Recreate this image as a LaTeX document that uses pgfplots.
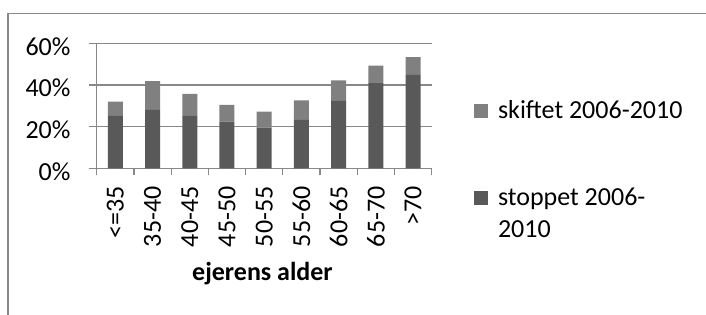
\documentclass[border=0pt]{standalone}
\usepackage{pgfplots}
\pgfplotsset{compat=1.18}
\usepackage{fontspec}
\setmainfont{Carlito}
\definecolor{darkbar}{HTML}{595959}
\definecolor{lightbar}{HTML}{808080}
\definecolor{gridgray}{HTML}{888888}
\begin{document}
\begin{tikzpicture}[x=1bp,y=1bp]
\path[use as bounding box] (0,0) rectangle (706,314);
\begin{scope}
\clip (0,0) rectangle (706,314);
\draw[gridgray, line width=1.5bp] (8,-10) -- (8,300.7) -- (720,300.7);
\end{scope}
\begin{axis}[
  at={(96.7bp,145.7bp)}, anchor=south west,
  scale only axis, width=335bp, height=125bp,
  ybar stacked, bar width=15bp,
  xmin=-0.5, xmax=8.5, ymin=0, ymax=60,
  axis x line*=bottom, axis y line*=left,
  axis line style={gridgray, line width=1.2bp},
  every axis plot/.append style={draw=none},
  xtick={0,...,8},
  xticklabels={<=35,35-40,40-45,45-50,50-55,55-60,60-65,65-70,>70},
  major x tick style={draw=none},
  minor xtick={-0.5,0.5,...,8.5},
  minor tick length=7bp,
  major tick length=8bp,
  tick align=outside,
  tick style={gridgray, line width=1.2bp},
  ytick={0,20,40,60},
  yticklabels={0\%,20\%,40\%,60\%},
  ymajorgrids, grid style={gridgray, line width=1.2bp},
  tick label style={font=\fontsize{26bp}{32bp}\selectfont},
  xticklabel style={rotate=90, anchor=east, inner sep=0pt},
  xticklabel shift=10bp,
  yticklabel style={inner sep=0pt, yshift=-3bp},
  yticklabel shift=18bp,
  xlabel={\bfseries ejerens alder},
  xlabel style={font=\fontsize{26bp}{32bp}\selectfont, at={(axis description cs:0.4949,-0.8936)}, anchor=base},
  reverse legend,
  legend image code/.code={\fill[#1] (0bp,0.5bp) rectangle (14bp,14.5bp);},
  legend style={draw=none, fill=none, inner sep=0pt, outer sep=0pt,
    at={(axis description cs:1.1263,0.5624)}, anchor=north west,
    font=\fontsize{26bp}{32bp}\selectfont,
    row sep=64bp, column sep=8bp,
    cells={inner sep=0pt, anchor=base west}},
]
\addplot[fill=darkbar] coordinates {(0,25.2) (1,28.1) (2,25.2) (3,22.4) (4,19.5) (5,23.3) (6,32.4) (7,41.3) (8,44.9)};
\addlegendentry{\vtop{\hbox{stoppet 2006-}\hbox{2010}}}
\addplot[fill=lightbar] coordinates {(0,6.8) (1,13.7) (2,10.5) (3,8.0) (4,7.7) (5,9.3) (6,9.8) (7,8.0) (8,8.5)};
\addlegendentry{skiftet 2006-2010}
\end{axis}
\end{tikzpicture}
\end{document}
